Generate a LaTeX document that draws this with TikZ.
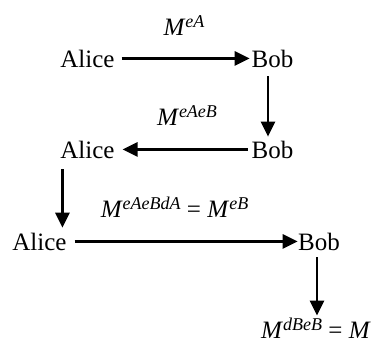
\documentclass[tikz,border=0pt]{standalone}
\usepackage{fontspec}
\setmainfont{Liberation Serif}
\usetikzlibrary{arrows.meta}

\newcommand{\pw}[1]{\raisebox{8pt}{\fontsize{18}{18}\selectfont\itshape #1}}

\tikzset{
	party/.style = {inner sep = 0pt, outer sep = 0pt, anchor = base,
		font = \fontsize{25}{30}\selectfont},
	msg/.style = {party},
	pass/.style = {line width = 2.6pt,
		-{Triangle[length = 15pt, width = 14pt]}}
}

\begin{document}
\begin{tikzpicture}[x = 1pt, y = -1pt]
\useasboundingbox (0, 0) rectangle (373, 343);

\node[party] (a1) at (87.5, 67) {Alice};
\node[party] (b1) at (272.5, 67) {Bob};
\node[party] (a2) at (87.5, 158) {Alice};
\node[party] (b2) at (272.5, 158) {Bob};
\node[party] (a3) at (39.5, 250) {Alice};
\node[party] (b3) at (319, 250) {Bob};
\node[msg] (res) at (316, 338) {\textit{M}\pw{dBeB} = \textit{M}};

\node[msg] (l1) at (184, 35) {\textit{M}\pw{eA}};
\node[msg] (l2) at (187, 125) {\textit{M}\pw{eAeB}};
\node[msg] (l3) at (174.5, 217) {\textit{M}\pw{eAeBdA} = \textit{M}\pw{eB}};

\draw[pass, shorten < = 7pt, shorten > = 2pt] (a1.east) -- (b1.west);
\draw[pass, shorten < = 9pt, shorten > = 4pt]
	([xshift = -4.5pt]b1.south) -- ([xshift = -4.5pt]b1.south |- b2.north);
\draw[pass, shorten < = 4pt, shorten > = 8pt] (b2.west) -- (a2.east);
\draw[pass, shorten < = 11pt, shorten > = 5pt]
	([xshift = 2pt]a2.south west) -- ([xshift = 2pt]a2.south west |- a3.north);
\draw[pass, shorten < = 8pt, shorten > = 0.5pt] (a3.east) -- (b3.west);
\draw[pass, shorten < = 7pt, shorten > = 2pt]
	([xshift = -2pt]b3.south) -- ([xshift = -2pt]b3.south |- res.north);
\end{tikzpicture}
\end{document}
